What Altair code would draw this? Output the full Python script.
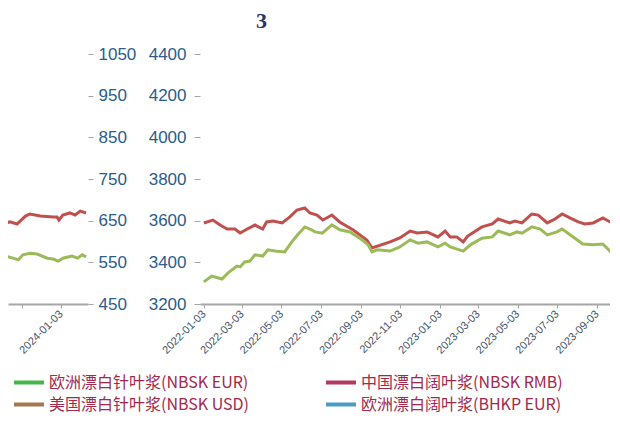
import altair as alt
import pandas as pd

# ---- data ----
red_dates = ["2022-01-03","2022-01-17","2022-01-28","2022-02-08","2022-02-20","2022-02-28","2022-03-11","2022-03-23",
             "2022-04-04","2022-04-10","2022-04-20","2022-05-04","2022-05-16","2022-05-27","2022-06-08","2022-06-16",
             "2022-06-27","2022-07-06","2022-07-20","2022-08-01","2022-08-22","2022-09-12","2022-09-20","2022-10-18",
             "2022-11-02","2022-11-18","2022-11-29","2022-12-14","2022-12-31","2023-01-11","2023-01-19","2023-01-29",
             "2023-02-08","2023-02-15","2023-03-09","2023-03-25","2023-04-03","2023-04-21","2023-04-29","2023-05-10",
             "2023-05-25","2023-06-04","2023-06-18","2023-06-30","2023-07-11","2023-07-23","2023-08-05","2023-08-15",
             "2023-08-28","2023-09-12","2023-09-26","2023-10-09","2023-10-16","2023-10-27","2023-11-09","2023-11-16",
             "2023-12-02","2023-12-22","2023-12-28","2023-12-31","2024-01-06","2024-01-17","2024-01-25","2024-02-02",
             "2024-02-11"]
red_values = [3589,3603,3579,3560,3560,3541,3560,3579,
              3560,3594,3598,3589,3618,3651,3661,3637,
              3627,3603,3627,3594,3555,3507,3469,3498,
              3517,3550,3541,3546,3522,3550,3522,3522,
              3498,3526,3570,3584,3608,3589,3598,3589,
              3632,3627,3589,3608,3632,3613,3594,3584,
              3589,3613,3589,3589,3594,3584,3622,3632,
              3622,3618,3618,3603,3627,3637,3627,3646,
              3637]

green_dates = ["2022-01-03","2022-01-15","2022-01-31","2022-02-09","2022-02-23","2022-02-28","2022-03-07","2022-03-15",
               "2022-03-23","2022-04-04","2022-04-12","2022-04-23","2022-05-08","2022-05-19","2022-05-28","2022-06-08",
               "2022-06-16","2022-06-24","2022-07-05","2022-07-20","2022-08-01","2022-08-17","2022-09-01","2022-09-14",
               "2022-09-20","2022-09-28","2022-10-18","2022-11-02","2022-11-18","2022-11-30","2022-12-14","2022-12-31",
               "2023-01-11","2023-01-19","2023-02-08","2023-02-19","2023-03-09","2023-03-25","2023-04-03","2023-04-21",
               "2023-05-02","2023-05-10","2023-05-25","2023-06-07","2023-06-18","2023-07-03","2023-07-11","2023-07-28",
               "2023-08-12","2023-08-28","2023-09-12","2023-09-26","2023-10-09","2023-10-21","2023-10-29","2023-11-05",
               "2023-11-16","2023-11-27","2023-12-13","2023-12-22","2023-12-30","2024-01-06","2024-01-20","2024-01-29",
               "2024-02-05","2024-02-11"]
green_values = [503,517,510,524,541,539,551,553,
                568,565,580,577,575,599,616,635,
                630,623,620,640,628,623,608,592,
                575,580,577,587,604,596,599,587,
                596,587,577,592,608,611,625,616,
                623,620,635,630,616,623,630,611,
                594,592,594,572,565,560,556,568,
                572,570,560,558,553,560,565,560,
                568,563]

main_ticks = ["2022-01-03","2022-03-03","2022-05-03","2022-07-03","2022-09-03","2022-11-03",
              "2023-01-03","2023-03-03","2023-05-03","2023-07-03","2023-09-03"]
side_ticks = ["2023-11-03","2024-01-03"]
main_range = ["2021-12-28","2023-09-23"]
side_range = ["2023-10-13","2024-02-14"]

rmb_ticks = [3200,3400,3600,3800,4000,4200,4400]
eur_ticks = [450,550,650,750,850,950,1050]

# legend entries, listed column by column (left column first)
legend_names = ["欧洲漂白针叶浆(NBSK EUR)","美国漂白针叶浆(NBSK USD)",
                "中国漂白阔叶浆(NBSK RMB)","欧洲漂白阔叶浆(BHKP EUR)"]
legend_colors = ["#45B649","#A07852","#B23A62","#4B9BC6"]

# ---- build ----
def D(s):
    y, m, d = map(int, s.split("-"))
    return alt.DateTime(year=y, month=m, date=d, utc=True)

red_df = pd.DataFrame({"date": red_dates, "value": red_values})
green_df = pd.DataFrame({"date": green_dates, "value": green_values})
legend_df = pd.DataFrame({"series": legend_names, "date": ["2022-06-01"] * 4,
                          "value": [None] * 4})

AXIS_GRAY = "#A6A6A6"
LABEL_BLUE = "#2B5C8A"

def x_enc(rng, ticks, blank_first=False):
    fmt = "utcFormat(datum.value, '%Y-%m-%d')"
    expr = fmt
    if blank_first:
        expr = f"datum.index == 0 ? '' : {fmt}"
    return alt.X("date:T",
                 scale=alt.Scale(type="utc", domain=[D(rng[0]), D(rng[1])]),
                 axis=alt.Axis(title=None, values=[D(t) for t in ticks], labelExpr=expr,
                               labelAngle=-45, labelAlign="right", labelBaseline="middle",
                               labelFontSize=11, labelColor="#44546A", labelPadding=4,
                               domainColor=AXIS_GRAY, domainWidth=2, tickColor=AXIS_GRAY,
                               tickSize=4, grid=False, labelOverlap=False))

H = 250

# main panel
xm = x_enc(main_range, main_ticks)
main_red = alt.Chart(red_df).mark_line(color="#C0504D", strokeWidth=3, clip=True).encode(
    x=xm,
    y=alt.Y("value:Q", scale=alt.Scale(domain=[3200, 4400]),
            axis=alt.Axis(title=None, values=rmb_ticks, format="d", orient="left", domain=False,
                          grid=False, tickColor=AXIS_GRAY, tickSize=6, labelPadding=8,
                          labelFontSize=17, labelColor=LABEL_BLUE)))
main_green = alt.Chart(green_df).mark_line(color="#9BBB59", strokeWidth=3, clip=True).encode(
    x=xm,
    y=alt.Y("value:Q", scale=alt.Scale(domain=[450, 1050]), axis=None))
legend_layer = alt.Chart(legend_df).mark_line(strokeWidth=4).encode(
    x=xm,
    y=alt.Y("value:Q", scale=alt.Scale(domain=[0, 1]), axis=None),
    color=alt.Color("series:N", scale=alt.Scale(domain=legend_names, range=legend_colors),
                    legend=alt.Legend(title=None, orient="none", legendX=4, legendY=320,
                                      columns=2, columnPadding=74, rowPadding=5,
                                      symbolType="stroke", symbolSize=900, symbolStrokeWidth=4,
                                      clipHeight=17, labelOffset=3,
                                      labelFont="Noto Sans CJK SC", labelFontSize=16,
                                      labelColor="#A3294A", labelLimit=400)))
main = alt.layer(main_red, main_green, legend_layer).resolve_scale(y="independent").properties(
    width=410, height=H)

# side panel (right axis)
xs = x_enc(side_range, side_ticks, blank_first=True)
side_red = alt.Chart(red_df).mark_line(color="#C0504D", strokeWidth=3, clip=True).encode(
    x=xs,
    y=alt.Y("value:Q", scale=alt.Scale(domain=[3200, 4400]), axis=None))
side_green = alt.Chart(green_df).mark_line(color="#9BBB59", strokeWidth=3, clip=True).encode(
    x=xs,
    y=alt.Y("value:Q", scale=alt.Scale(domain=[450, 1050]),
            axis=alt.Axis(title=None, values=eur_ticks, format="d", orient="right", domain=False,
                          grid=False, tickColor=AXIS_GRAY, tickSize=5, labelPadding=5,
                          labelFontSize=17, labelColor=LABEL_BLUE)))
side = alt.layer(side_red, side_green).resolve_scale(y="independent").properties(width=80, height=H)

chart = alt.hconcat(side, main, spacing=112, bounds="flush").properties(
    title=alt.TitleParams("3", anchor="start", dx=248, offset=12, font="Liberation Serif",
                          fontSize=22, fontWeight="bold", color="#1F3864"),
    padding={"top": 2, "left": 0, "right": 0, "bottom": 0},
).configure_view(stroke=None).configure_axis(labelFont="Liberation Sans")

chart.save("out.html", embed_options={"renderer": "svg", "actions": False})
